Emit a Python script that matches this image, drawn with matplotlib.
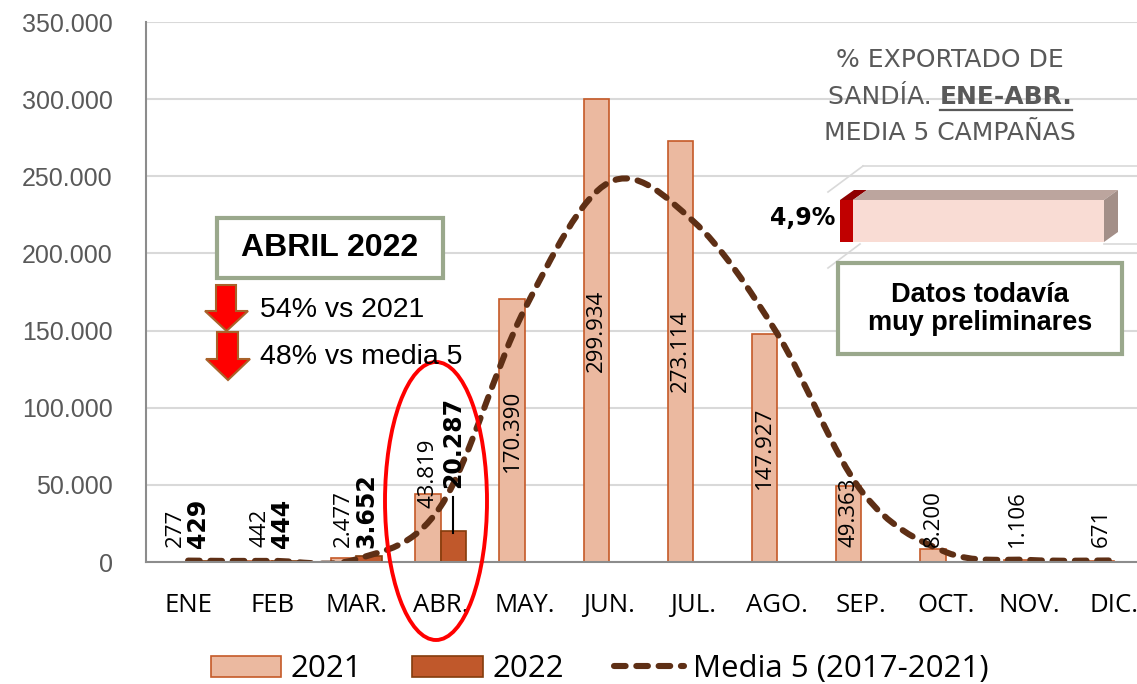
import matplotlib
matplotlib.use('Agg')
import matplotlib.pyplot as plt
from matplotlib.patches import Polygon, Ellipse, Rectangle, Patch, PathPatch
from matplotlib.lines import Line2D
from matplotlib.path import Path
from matplotlib.ticker import FuncFormatter
import numpy as np

# ---------------- data ----------------
months = ['ENE', 'FEB', 'MAR.', 'ABR.', 'MAY.', 'JUN.', 'JUL.', 'AGO.', 'SEP.', 'OCT.', 'NOV.', 'DIC.']
v2021 = [277, 442, 2477, 43819, 170390, 299934, 273114, 147927, 49363, 8200, 1106, 671]
v2022 = [429, 444, 3652, 20287]
media5 = [900, 700, 1800, 36000, 164000, 246000, 221000, 148000, 46000, 6500, 1300, 1000]
yticks = [0, 50000, 100000, 150000, 200000, 250000, 300000, 350000]
pct_export = 4.9
series_names = ['2021', '2022', 'Media 5 (2017-2021)']

# ---------------- styles ----------------
C21, E21 = '#EBB9A0', '#C55A28'
C22, E22 = '#C0582B', '#843C0C'
CLINE = '#5E2F15'
LW = 4.4
DASH = (0, (1.9, 1.75))
W, H = 1137, 684


def fx(x):
    return x / W


def fy(y):
    return 1 - y / H


def fmt(v):
    return f"{v:,}".replace(',', '.')


fig = plt.figure(figsize=(W / 100, H / 100), dpi=100)
ax = fig.add_axes([fx(146), (H - 562) / H, 1010 / W, 540 / H])

x = np.arange(len(months))
ax.bar(x - 0.15, v2021, 0.3, color=C21, edgecolor=E21, lw=1.2, zorder=2)
ax.bar(np.arange(len(v2022)) + 0.15, v2022, 0.3, color=C22, edgecolor=E22, lw=1.2, zorder=2)

# smoothed line (Catmull-Rom -> cubic Bezier)
pts = [np.array([float(i), float(v)]) for i, v in enumerate(media5)]
n = len(pts)
verts = [pts[0]]
codes = [Path.MOVETO]
for i in range(n - 1):
    p0 = pts[max(i - 1, 0)]
    p1 = pts[i]
    p2 = pts[i + 1]
    p3 = pts[min(i + 2, n - 1)]
    c1 = p1 + (p2 - p0) / 6
    c2 = p2 - (p3 - p1) / 6
    verts += [c1, c2, p2]
    codes += [Path.CURVE4] * 3
pp = PathPatch(Path(verts, codes), fill=False, ec=CLINE, lw=LW,
               linestyle=DASH, capstyle='round', zorder=3)
ax.add_patch(pp)

ax.set_xlim(-0.5, 11.5)
ax.set_ylim(0, 350000)
ax.set_yticks(yticks)
ax.yaxis.set_major_formatter(FuncFormatter(lambda v, p: fmt(int(v))))
ax.set_xticks(x)
ax.set_xticklabels(months, family='Open Sans', fontsize=18.5, color='black')
for lab in ax.get_yticklabels():
    lab.set_family('Liberation Sans')
    lab.set_fontsize(18)
    lab.set_color('#595959')
ax.tick_params(axis='y', length=0, pad=24)
ax.tick_params(axis='x', length=0, pad=22)
ax.grid(axis='y', color='#D9D9D9', lw=1.5, zorder=0)
ax.set_axisbelow(True)
for s in ['top', 'right']:
    ax.spines[s].set_visible(False)
for s in ['left', 'bottom']:
    ax.spines[s].set_color('#8C8C8C')
    ax.spines[s].set_linewidth(1.5)
    ax.spines[s].set_zorder(4)

# data labels 2021
for i, v in enumerate(v2021):
    if v > 100000:
        y, va = v / 2, 'center'
    elif i == 3:
        y, va = 35000, 'bottom'
    else:
        y, va = 10000, 'bottom'
    ax.text(i - 0.15, y, fmt(v), rotation=90, ha='center', va=va,
            fontsize=16, family='Open Sans', color='black', zorder=5)

# data labels 2022
for i, v in enumerate(v2022):
    if i == 3:
        y = 48000
        ax.plot([i + 0.15, i + 0.15], [v - 1500, 42000], color='black', lw=1.5, zorder=5)
    else:
        y = 9000
    ax.text(i + 0.12 + (0.03 if i == 3 else 0), y, fmt(v), rotation=90, ha='center', va='bottom',
            fontsize=17, family='DejaVu Sans', weight='bold', color='black', zorder=5)

# red ellipse around April
fig.add_artist(Ellipse((fx(436), fy(501)), 102 / W, 278 / H, transform=fig.transFigure,
                       fill=False, ec='#FF0000', lw=2.8, zorder=6))

# ABRIL 2022 box
fig.add_artist(Rectangle((fx(217), fy(278)), (443 - 217) / W, (278 - 218) / H,
                         transform=fig.transFigure, fc='white', ec='#9AA88C', lw=3, zorder=6))
fig.text(fx(330), fy(248), 'ABRIL 2022', ha='center', va='center', fontsize=23,
         family='Liberation Sans', weight='bold', zorder=7)


def down_arrow(x0, x1, sx0, sx1, ytop, yhead, ytip):
    xm = (x0 + x1) / 2
    poly = [(sx0, ytop), (sx1, ytop), (sx1, yhead), (x1, yhead), (xm, ytip),
            (x0, yhead), (sx0, yhead)]
    fig.add_artist(Polygon([(fx(a), fy(b)) for a, b in poly], closed=True,
                           transform=fig.transFigure, fc='#FF0000', ec='#A8622A', lw=1.5, zorder=7))


down_arrow(205, 248, 216, 236, 285, 311, 331)
down_arrow(206, 250, 217, 238, 332, 359, 380)
fig.text(fx(260), fy(310), '54% vs 2021', ha='left', va='center', fontsize=20.5,
         family='Liberation Sans', zorder=7)
fig.text(fx(260), fy(357), '48% vs media 5', ha='left', va='center', fontsize=20.5,
         family='Liberation Sans', zorder=7)

# Datos todavía box
fig.add_artist(Rectangle((fx(838), fy(354)), (1122 - 838) / W, (354 - 263) / H,
                         transform=fig.transFigure, fc='white', ec='#9AA88C', lw=3, zorder=6))
fig.text(fx(980), fy(309), 'Datos todavía\nmuy preliminares', ha='center', va='center',
         fontsize=19.5, family='Liberation Sans', weight='bold', linespacing=1.15, zorder=7)

# title text top right
TC = '#595959'
TFS = 18
fig.text(fx(950), fy(60), '% EXPORTADO DE', ha='center', va='center', fontsize=TFS,
         family='DejaVu Sans', color=TC)
fig.text(fx(950), fy(133), 'MEDIA 5 CAMPAÑAS', ha='center', va='center', fontsize=TFS,
         family='DejaVu Sans', color=TC)
t1 = fig.text(0, fy(97), 'SANDÍA. ', ha='left', va='center', fontsize=TFS,
              family='DejaVu Sans', color=TC)
t2 = fig.text(0, fy(97), 'ENE-ABR.', ha='left', va='center', fontsize=TFS,
              family='DejaVu Sans', color=TC, weight='bold')
fig.canvas.draw()
r = fig.canvas.get_renderer()
w1 = t1.get_window_extent(r).width
w2 = t2.get_window_extent(r).width
start = 950 - (w1 + w2) / 2
t1.set_x(fx(start))
t2.set_x(fx(start + w1))
fig.add_artist(Line2D([fx(start + w1), fx(start + w1 + w2)], [fy(110), fy(110)],
                      transform=fig.transFigure, color=TC, lw=1.6))

# 3D-looking percentage bar (inset)
ax_in = fig.add_axes([fx(840), fy(242), 280 / W, 54 / H])
ax_in.set_xlim(0, 100 * 280 / 264)
ax_in.set_ylim(0, 54 / 42)
ax_in.axis('off')
dx, dy = 100 * 14 / 264, 10 / 42
ax_in.barh(0.5, pct_export, 1.0, left=0, color='#C00000', zorder=2)
ax_in.barh(0.5, 100 - pct_export, 1.0, left=pct_export, color='#F9DCD4', zorder=2)
ax_in.add_patch(Polygon([(0, 1), (pct_export, 1), (pct_export + dx, 1 + dy), (dx, 1 + dy)],
                        closed=True, fc='#8E0000', ec='none', zorder=3))
ax_in.add_patch(Polygon([(pct_export, 1), (100, 1), (100 + dx, 1 + dy), (pct_export + dx, 1 + dy)],
                        closed=True, fc='#BCA59E', ec='none', zorder=3))
ax_in.add_patch(Polygon([(100, 0), (100 + dx, dy), (100 + dx, 1 + dy), (100, 1)],
                        closed=True, fc='#A38F88', ec='none', zorder=3))
fig.text(fx(835), fy(218), f"{pct_export:.1f}%".replace('.', ','), ha='right', va='center',
         fontsize=17, family='DejaVu Sans', weight='bold')
# faint wall lines of the 3D inset
for (a, b), (c, d) in [((828, 192), (863, 166)), ((863, 166), (1137, 166)),
                       ((828, 268), (860, 244)), ((1104, 244), (1137, 244))]:
    fig.add_artist(Line2D([fx(a), fx(c)], [fy(b), fy(d)], transform=fig.transFigure,
                          color='#D9D9D9', lw=1.2, zorder=1))

# legend
handles = [Patch(fc=C21, ec=E21, lw=1.2), Patch(fc=C22, ec=E22, lw=1.2),
           Line2D([], [], color=CLINE, lw=LW, linestyle=DASH, dash_capstyle='round')]
fig.legend(handles, series_names, loc='center', bbox_to_anchor=(fx(600), fy(669)), ncol=3,
           frameon=False, prop={'family': 'Open Sans', 'size': 22.5}, handlelength=2.25,
           handleheight=0.66, handletextpad=0.3, columnspacing=1.6, borderpad=0)

fig.savefig('out.png', dpi=100)
